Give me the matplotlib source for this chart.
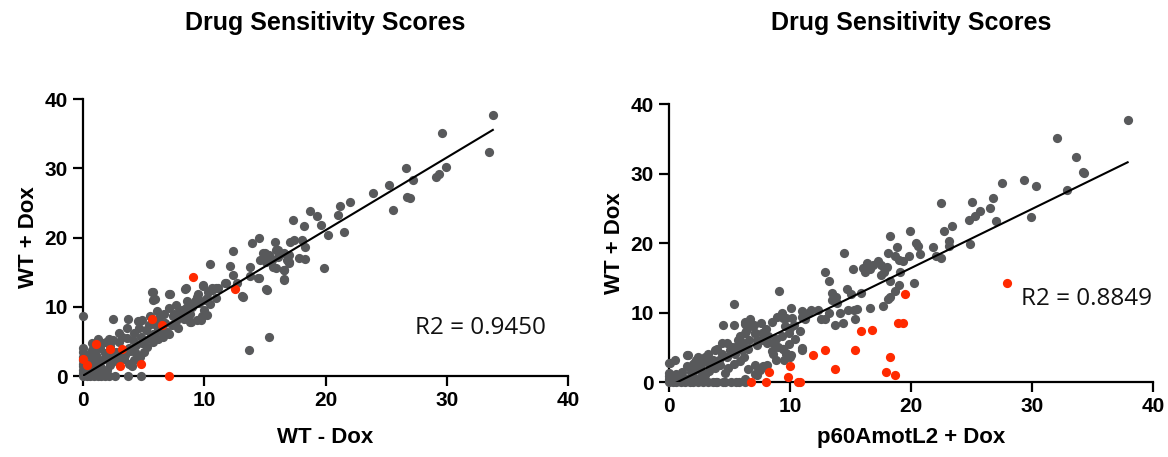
import matplotlib
matplotlib.use("Agg")
import matplotlib.pyplot as plt
import numpy as np

# ---- data ----
# left panel: WT - Dox (x) vs WT + Dox (y)
left_gray = [
    (33.8, 37.7), (33.5, 32.4), (29.6, 35.1), (29.9, 30.2), (29.4, 29.2), (29.1, 28.7),
    (26.6, 30.0), (27.2, 28.3), (26.75, 25.9), (27.0, 25.7), (25.6, 24.0), (25.2, 27.6),
    (23.9, 26.45), (22.0, 25.1), (21.2, 24.5), (21.0, 23.2), (21.5, 20.8), (20.2, 20.3),
    (19.9, 15.6), (19.6, 21.8), (19.3, 23.1), (18.7, 23.8), (18.2, 21.7), (17.3, 22.5),
    (17.4, 19.6), (17.1, 19.4), (18.1, 19.7), (18.3, 18.6), (18.3, 16.9), (17.8, 17.0),
    (17.0, 17.5), (17.0, 16.4), (16.6, 15.3), (16.6, 13.9), (16.1, 18.2), (15.8, 19.4),
    (15.9, 15.6), (15.6, 16.8), (15.3, 17.5), (15.0, 17.8), (15.1, 16.5), (14.5, 19.9),
    (13.9, 19.2), (13.8, 15.8), (14.5, 14.1), (13.8, 14.4), (15.2, 12.4), (15.3, 5.7),
    (13.7, 3.7), (13.2, 11.4), (12.4, 18.0), (12.1, 15.9), (12.4, 14.6), (12.7, 13.5),
    (11.8, 13.5), (10.5, 16.2), (11.1, 12.7), (10.6, 12.4), (10.3, 12.2), (9.9, 13.1),
    (8.5, 12.7), (5.7, 12.2), (5.8, 11.0), (7.2, 11.9),
    (14.85, 17.7), (15.0, 17.0), (15.45, 16.7), (15.9, 18.2), (16.1, 17.2), (16.55, 17.7),
    (16.8, 16.7), (17.0, 16.3), (16.55, 15.3), (15.7, 15.8), (14.6, 16.7),
    (9.9, 13.0), (10.6, 12.7), (11.0, 12.7), (9.4, 11.4), (10.2, 11.2), (11.7, 13.5),
    (13.1, 11.5), (15.1, 12.55), (16.55, 13.95), (14.4, 14.2),
    (0.0, 0.0), (0.0, 0.5), (0.0, 0.9), (0.0, 1.4), (0.0, 1.8), (0.0, 2.3), (0.0, 2.8),
    (0.0, 3.5), (0.0, 4.0), (0.0, 8.6),
    (0.3, 0.0), (0.6, 0.0), (0.9, 0.0), (1.2, 0.0), (1.5, 0.0), (1.8, 0.0), (2.1, 0.0),
    (2.6, 0.0), (3.7, 0.0), (4.8, 0.0),
    (0.4, 0.6), (0.8, 0.4), (1.2, 0.7), (1.6, 0.5), (2.0, 0.8), (0.5, 1.3), (1.0, 1.1),
    (1.5, 1.2), (2.2, 1.6), (0.8, 2.0), (1.3, 2.2), (1.9, 2.4), (2.6, 2.3), (0.5, 3.0),
    (1.1, 3.0), (1.8, 3.3), (2.5, 2.8), (3.0, 3.2), (0.7, 3.8), (1.4, 4.0), (1.6, 4.7),
    (0.7, 4.7), (1.9, 4.9), (2.5, 5.2), (3.0, 4.9), (3.6, 5.5), (3.0, 6.2), (3.6, 6.9),
    (2.5, 8.2), (3.7, 8.2), (4.0, 1.4), (4.2, 2.3), (4.7, 2.8), (1.6, 2.3), (1.9, 3.2),
    (2.7, 3.5), (3.8, 4.0), (4.4, 4.5), (5.1, 5.2), (5.6, 5.9), (6.2, 6.6), (6.8, 7.6),
    (7.4, 8.6), (7.9, 9.3), (8.5, 9.8), (9.0, 10.0), (9.6, 10.5), (10.1, 11.0), (7.1, 9.8),
    (7.7, 10.2), (8.2, 9.5), (8.8, 9.0), (9.4, 8.1), (9.8, 8.7), (8.8, 7.8), (6.3, 8.4),
    (6.0, 7.4), (5.2, 6.6), (4.8, 5.7), (4.1, 5.2), (1.5, 1.1), (1.0, 0.9), (0.5, 1.8),
    (0.8, 3.8), (4.9, 4.7), (5.8, 4.9), (6.6, 5.7), (7.1, 6.1), (5.75, 6.1), (5.3, 4.2),
    (6.4, 6.6), (4.5, 8.0), (4.9, 8.1), (5.5, 8.6), (5.75, 12.2), (5.9, 11.1), (7.1, 11.8),
    (8.4, 12.6), (9.5, 11.8), (3.5, 3.0), (3.9, 3.6), (4.3, 3.4), (2.9, 2.0), (3.4, 2.5),
    (3.8, 1.8), (10.0, 9.5), (9.7, 8.1), (8.9, 7.8), (10.2, 8.8), (7.7, 8.0), (8.0, 8.8),
    (7.3, 7.4), (6.9, 6.3), (7.5, 9.0), (8.6, 10.8), (9.2, 10.8), (10.5, 10.4), (11.0, 11.2),
    (4.2, 6.2), (4.6, 7.0), (5.4, 7.4), (6.1, 9.4), (6.7, 8.9), (3.2, 5.6), (2.2, 4.3),
    (1.2, 5.3), (2.1, 5.4), (5.0, 3.5), (6.2, 5.3), (7.8, 7.0), (8.3, 8.3),
]
left_red = [
    (9.1, 14.3), (12.5, 12.55), (5.7, 8.3), (6.5, 7.4), (1.1, 4.6), (2.2, 3.85),
    (3.2, 3.85), (3.05, 1.45), (4.8, 1.7), (7.1, 0.0), (0.0, 2.5), (0.3, 1.6),
]

# right panel: p60AmotL2 + Dox (x) vs WT + Dox (y)
right_gray = [
    (37.9, 37.65), (32.1, 35.1), (33.6, 32.4), (34.25, 30.2), (34.3, 30.1), (32.9, 27.6),
    (30.3, 28.25), (29.3, 29.0), (29.9, 23.8), (27.5, 28.6), (26.8, 26.5), (26.5, 25.0),
    (27.0, 23.2), (25.7, 24.6), (25.3, 23.9), (25.0, 25.85), (24.8, 23.3), (24.9, 19.8),
    (22.5, 25.75), (22.7, 21.7), (23.4, 22.5), (23.1, 20.3), (23.1, 19.5), (22.5, 17.9),
    (22.1, 18.1), (21.8, 19.4), (20.4, 20.0), (20.6, 19.6), (20.7, 18.4), (19.9, 21.8),
    (19.8, 18.2), (20.25, 14.2), (18.3, 21.0), (18.8, 19.4), (19.0, 17.6), (19.3, 17.4),
    (18.7, 18.2), (18.1, 18.5), (19.05, 15.8), (18.3, 14.6), (19.0, 13.9), (18.7, 13.1),
    (18.3, 12.3), (18.1, 11.9), (17.7, 10.9), (18.0, 16.5), (17.75, 15.8), (17.5, 15.4),
    (17.3, 17.4), (17.5, 16.9), (16.85, 16.9), (16.4, 17.1), (16.0, 16.4), (16.2, 15.8),
    (16.6, 16.3), (15.2, 16.2), (14.5, 18.6), (12.9, 15.9), (13.2, 14.5), (15.9, 12.8),
    (16.6, 10.7), (14.7, 13.4), (15.0, 12.6), (15.3, 10.4), (15.55, 10.55), (15.4, 9.0),
    (14.4, 8.5), (13.7, 8.25), (14.8, 10.4), (14.1, 9.9), (13.5, 12.8), (13.8, 12.3),
    (13.5, 11.8), (13.9, 11.4), (13.2, 9.9), (12.9, 9.0), (12.6, 9.0), (12.3, 10.4),
    (11.7, 10.4), (11.5, 9.9), (10.95, 10.2), (11.25, 9.0), (10.8, 7.3), (10.95, 4.9),
    (10.1, 10.6), (10.2, 9.2), (10.3, 8.25), (10.0, 7.8), (9.1, 13.1), (9.3, 9.9),
    (9.4, 9.2), (9.6, 8.0), (9.9, 7.05), (9.3, 6.6), (9.4, 4.75), (9.7, 4.2), (10.05, 3.95),
    (9.5, 3.1), (8.6, 5.6), (8.6, 4.1), (8.1, 5.6), (7.7, 7.05), (7.3, 6.1), (7.1, 7.05),
    (6.7, 8.0), (6.3, 8.6), (6.7, 9.0), (5.35, 11.2), (4.45, 8.15), (5.35, 8.15),
    (7.8, 2.25), (8.1, 2.5), (7.3, 1.05), (6.3, 0.35), (5.5, 0.0), (5.8, 0.0), (4.6, 0.0),
    (3.85, 0.0), (1.5, 3.9), (0.5, 3.2), (0.0, 2.7),
    (6.3, 8.4), (6.7, 8.7), (9.3, 9.6), (9.7, 9.2), (11.0, 9.4), (6.3, 7.0), (7.1, 7.0),
    (7.8, 6.1), (5.7, 6.1), (4.35, 5.6), (5.2, 5.1), (3.8, 4.6), (3.25, 4.1), (2.4, 3.6),
    (1.6, 3.9), (0.1, 2.7), (2.15, 2.9), (2.8, 2.9), (3.5, 2.4), (4.1, 3.2), (4.8, 3.6),
    (5.45, 4.1), (6.0, 4.6), (6.55, 4.8), (7.25, 5.3), (8.5, 4.4), (9.45, 4.8), (9.7, 4.1),
    (10.0, 3.6), (11.0, 4.6), (8.8, 3.2), (7.1, 2.4), (6.55, 1.9), (7.5, 1.7), (7.9, 2.2),
    (7.1, 1.2), (6.3, 0.5), (5.1, 0.0), (6.3, 0.0), (4.5, 0.0),
    (0.0, 0.0), (0.0, 0.4), (0.0, 0.8), (0.0, 1.3), (0.3, 0.0), (0.6, 0.0), (1.0, 0.0),
    (1.3, 0.0), (1.7, 0.0), (2.0, 0.0), (2.4, 0.0), (2.8, 0.0), (3.2, 0.0), (3.6, 0.0),
    (4.0, 0.0), (0.4, 0.5), (0.8, 0.3), (1.2, 0.6), (1.6, 0.4), (2.0, 0.9), (2.5, 0.5),
    (3.0, 1.0), (0.6, 1.2), (1.1, 1.5), (1.8, 1.4), (2.3, 1.8), (2.7, 1.3), (3.3, 1.6),
    (3.8, 2.0), (1.5, 2.3), (2.0, 2.6), (2.6, 2.2), (3.1, 2.9), (3.6, 3.2), (4.2, 2.5),
    (4.6, 1.3), (4.9, 2.0), (5.4, 2.6), (5.9, 3.0), (6.2, 3.6), (4.4, 4.0), (5.0, 4.6),
    (5.6, 5.2), (6.1, 5.6), (6.6, 6.0), (3.0, 3.6), (2.2, 3.2), (4.0, 4.8), (4.8, 5.6),
    (5.9, 6.6), (6.4, 7.4), (7.0, 8.2), (7.6, 8.5), (8.0, 7.6), (8.5, 8.6), (8.9, 9.4),
    (8.2, 6.6), (8.8, 6.2), (9.0, 5.0), (9.9, 5.5), (10.4, 6.2),
]
right_red = [
    (27.9, 14.3), (19.5, 12.6), (18.9, 8.5), (19.3, 8.45), (15.85, 7.4), (16.8, 7.5),
    (15.4, 4.55), (12.9, 4.55), (11.9, 3.9), (13.7, 1.9), (18.3, 3.55), (17.9, 1.5),
    (18.7, 0.96), (10.0, 2.35), (9.8, 0.7), (8.3, 1.4), (8.0, 0.0), (6.8, 0.0),
    (10.65, 0.0), (10.8, 0.0),
]

# fitted lines as drawn in the reference (slope, intercept)
left_fit = (1.05, 0.05)
right_fit = (0.85, -0.6)
left_r2 = "R2 = 0.9450"
right_r2 = "R2 = 0.8849"
titles = ["Drug Sensitivity Scores", "Drug Sensitivity Scores"]
xlabels = ["WT - Dox", "p60AmotL2 + Dox"]
ylabels = ["WT + Dox", "WT + Dox"]
ticks = [0, 10, 20, 30, 40]

GRAY = "#58595b"
RED = "#ff2a00"
BOLD = "Liberation Sans"

fig = plt.figure(figsize=(11.68, 4.57), dpi=100)
ax1 = fig.add_axes([0.0711, 0.1772, 0.4152, 0.6061])
ax2 = fig.add_axes([0.5728, 0.1641, 0.4144, 0.6083])

panels = [
    (ax1, left_gray, left_red, left_fit, left_r2, (27.4, 6.9), -0.222),
    (ax2, right_gray, right_red, right_fit, right_r2, (29.1, 11.9), -0.198),
]

for i, (ax, gray, red, fit, r2, r2pos, xlab_y) in enumerate(panels):
    g = np.array(gray)
    r = np.array(red)
    ax.scatter(g[:, 0], g[:, 1], s=44, color=GRAY, linewidths=0, clip_on=False, zorder=3)
    ax.scatter(r[:, 0], r[:, 1], s=44, color=RED, linewidths=0, clip_on=False, zorder=4)

    allx = np.concatenate([g[:, 0], r[:, 0]])
    xs = np.array([allx.min(), allx.max()])
    ax.plot(xs, fit[0] * xs + fit[1], color="black", lw=1.5, zorder=5)

    ax.set_xlim(0, 40)
    ax.set_ylim(0, 40)
    ax.set_xticks(ticks)
    ax.set_yticks(ticks)
    for side in ["top", "right"]:
        ax.spines[side].set_visible(False)
    for side in ["left", "bottom"]:
        ax.spines[side].set_linewidth(1.6)
    ax.tick_params(direction="out", length=7, width=1.6, labelsize=15, pad=4)
    for lab in ax.get_xticklabels() + ax.get_yticklabels():
        lab.set_fontfamily(BOLD)
        lab.set_fontweight("bold")

    ax.set_xlabel(xlabels[i], fontsize=16, fontweight="bold", family=BOLD)
    ax.set_ylabel(ylabels[i], fontsize=16, fontweight="bold", family=BOLD)
    ax.xaxis.label.set_va("center")
    ax.xaxis.set_label_coords(0.5, xlab_y)
    ax.yaxis.set_label_coords(-0.09, 0.5)

    ax.text(r2pos[0], r2pos[1], r2, fontsize=17.5, family="Open Sans",
            ha="left", va="center", color="#111111")

fig.text(0.2787, 0.95, titles[0], fontsize=18, fontweight="bold", family=BOLD,
         ha="center", va="center")
fig.text(0.7800, 0.95, titles[1], fontsize=18, fontweight="bold", family=BOLD,
         ha="center", va="center")

fig.savefig("out.png", dpi=100)
